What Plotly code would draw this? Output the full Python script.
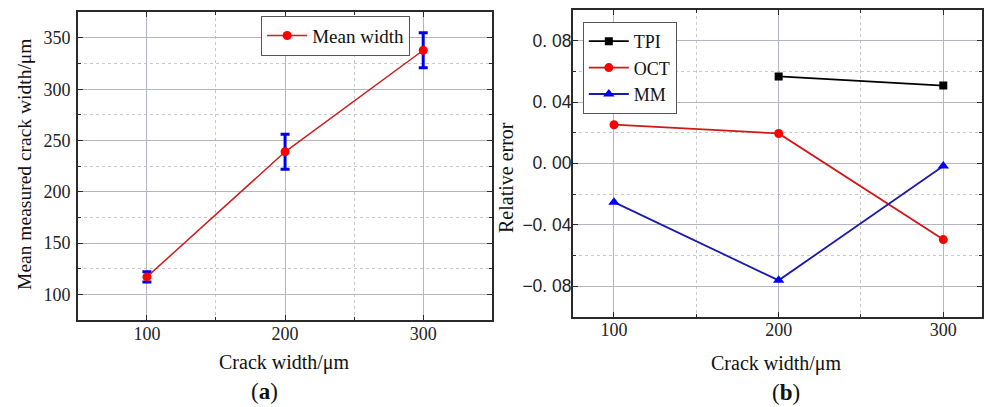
import plotly.graph_objects as go

# ---- data ----
crack_width = [100, 200, 300]
mean_width = [117, 239, 338]
mean_err = [5, 17, 17]

tpi_x = [200, 300]
tpi_y = [0.0567, 0.0507]
oct_x = [100, 200, 300]
oct_y = [0.0252, 0.0195, -0.0497]
mm_x = [100, 200, 300]
mm_y = [-0.0253, -0.0763, -0.0017]

a_xticks = [100, 200, 300]
a_yticks = [100, 150, 200, 250, 300, 350]
b_yticks = [-0.08, -0.04, 0.0, 0.04, 0.08]
b_yticktext = ["\u22120.\u00a008", "\u22120.\u00a004", "0.\u00a000", "0.\u00a004", "0.\u00a008"]

SERIF = "Liberation Serif, Times New Roman, serif"
SANS = "Liberation Sans, Arial, sans-serif"
W, H = 984, 407

fig = go.Figure()

fig.add_trace(go.Scatter(
    x=crack_width, y=mean_width, mode="lines+markers", name="Mean width",
    line=dict(color="#cc1f1f", width=1.5),
    marker=dict(color="#ff0000", size=9, symbol="circle"),
    error_y=dict(type="data", array=mean_err, visible=True, color="#0000e6",
                 thickness=3, width=4.5),
    xaxis="x", yaxis="y", legend="legend"))

fig.add_trace(go.Scatter(
    x=tpi_x, y=tpi_y, mode="lines+markers", name="TPI",
    line=dict(color="#000000", width=1.8),
    marker=dict(color="#000000", size=8, symbol="square"),
    xaxis="x2", yaxis="y2", legend="legend2"))
fig.add_trace(go.Scatter(
    x=oct_x, y=oct_y, mode="lines+markers", name="OCT",
    line=dict(color="#d01818", width=1.8),
    marker=dict(color="#ff0000", size=9, symbol="circle"),
    xaxis="x2", yaxis="y2", legend="legend2"))
fig.add_trace(go.Scatter(
    x=mm_x, y=mm_y, mode="lines+markers", name="MM",
    line=dict(color="#1a1ab0", width=1.8),
    marker=dict(color="#0000ff", size=10, symbol="triangle-up"),
    xaxis="x2", yaxis="y2", legend="legend2"))

grid_major = "#b4b6bf"
grid_minor = "#c8c8c8"
axis_line = "#2a2a2a"


def ax(**kw):
    base = dict(showline=True, linecolor=axis_line, linewidth=1.6, mirror="allticks",
                ticks="inside", ticklen=5, tickwidth=1.3, tickcolor=axis_line,
                showgrid=True, gridcolor=grid_major, gridwidth=1.3, zeroline=False,
                tickfont=dict(family=SERIF, size=18, color="#222"))
    base.update(kw)
    return base


fig.update_layout(
    width=W, height=H,
    margin=dict(l=0, r=0, t=0, b=0),
    paper_bgcolor="white", plot_bgcolor="white",
    font=dict(family=SERIF, size=17, color="#222"),
    xaxis=ax(domain=[78 / W, 493.3 / W], range=[50, 350], tickvals=a_xticks,
             minor=dict(dtick=50, tick0=50, showgrid=True, gridcolor=grid_minor,
                        griddash="dot", gridwidth=1, ticks="inside", ticklen=3),
             anchor="y", ticklabelstandoff=-3),
    yaxis=ax(domain=[1 - 320 / H, 1 - 12.3 / H], range=[75, 375], tickvals=a_yticks,
             minor=dict(dtick=50, tick0=75, showgrid=True, gridcolor=grid_minor,
                        griddash="dot", gridwidth=1, ticks="inside", ticklen=3),
             anchor="x", ticklabelstandoff=2),
    xaxis2=ax(domain=[574 / W, 1.0], range=[75, 323.5], tickvals=a_xticks,
              minor=dict(dtick=50, tick0=50, showgrid=True, gridcolor=grid_minor,
                         griddash="dot", gridwidth=1, ticks="inside", ticklen=3),
              anchor="y2", ticklabelstandoff=-4),
    yaxis2=ax(domain=[1 - 316.7 / H, 1 - 10 / H], range=[-0.1, 0.1],
              tickvals=b_yticks, ticktext=b_yticktext,
              tickfont=dict(family=SANS, size=17.5, color="#222"),
              minor=dict(dtick=0.04, tick0=-0.1, showgrid=True, gridcolor=grid_minor,
                         griddash="dot", gridwidth=1, ticks="inside", ticklen=3),
              anchor="x2", ticklabelstandoff=-4),
    legend=dict(x=261.7 / W, y=1 - 15.7 / H, xanchor="left", yanchor="top",
                bgcolor="white", bordercolor="#555", borderwidth=1,
                font=dict(family=SERIF, size=19, color="#111"),
                itemwidth=40, tracegroupgap=0),
    legend2=dict(x=584 / W, y=1 - 22 / H, xanchor="left", yanchor="top",
                 bgcolor="white", bordercolor="#555", borderwidth=1,
                 font=dict(family=SERIF, size=18, color="#111"),
                 itemwidth=40, tracegroupgap=0),
    showlegend=True,
)

annots = [
    dict(text="Crack width/\u03bcm", x=285.5, y=362, size=20, angle=0),
    dict(text="Crack width/\u03bcm", x=778, y=363, size=20, angle=0),
    dict(text="Mean measured crack width/\u03bcm", x=24, y=164, size=19.5, angle=-90),
    dict(text="Relative error", x=507, y=177, size=20, angle=-90),
    dict(text="(<b>a</b>)", x=265, y=391, size=23, angle=0),
    dict(text="(<b>b</b>)", x=788, y=392, size=23, angle=0),
]
for a in annots:
    fig.add_annotation(text=a["text"], x=a["x"] / W, y=1 - a["y"] / H,
                       xref="paper", yref="paper", showarrow=False,
                       xanchor="center", yanchor="middle", textangle=a["angle"],
                       font=dict(family=SERIF, size=a["size"], color="#111"))

fig.write_html("out.html", config={"displayModeBar": False},
               post_script="document.body.style.margin='0px';document.body.style.padding='0px';document.body.style.overflow='hidden';")
